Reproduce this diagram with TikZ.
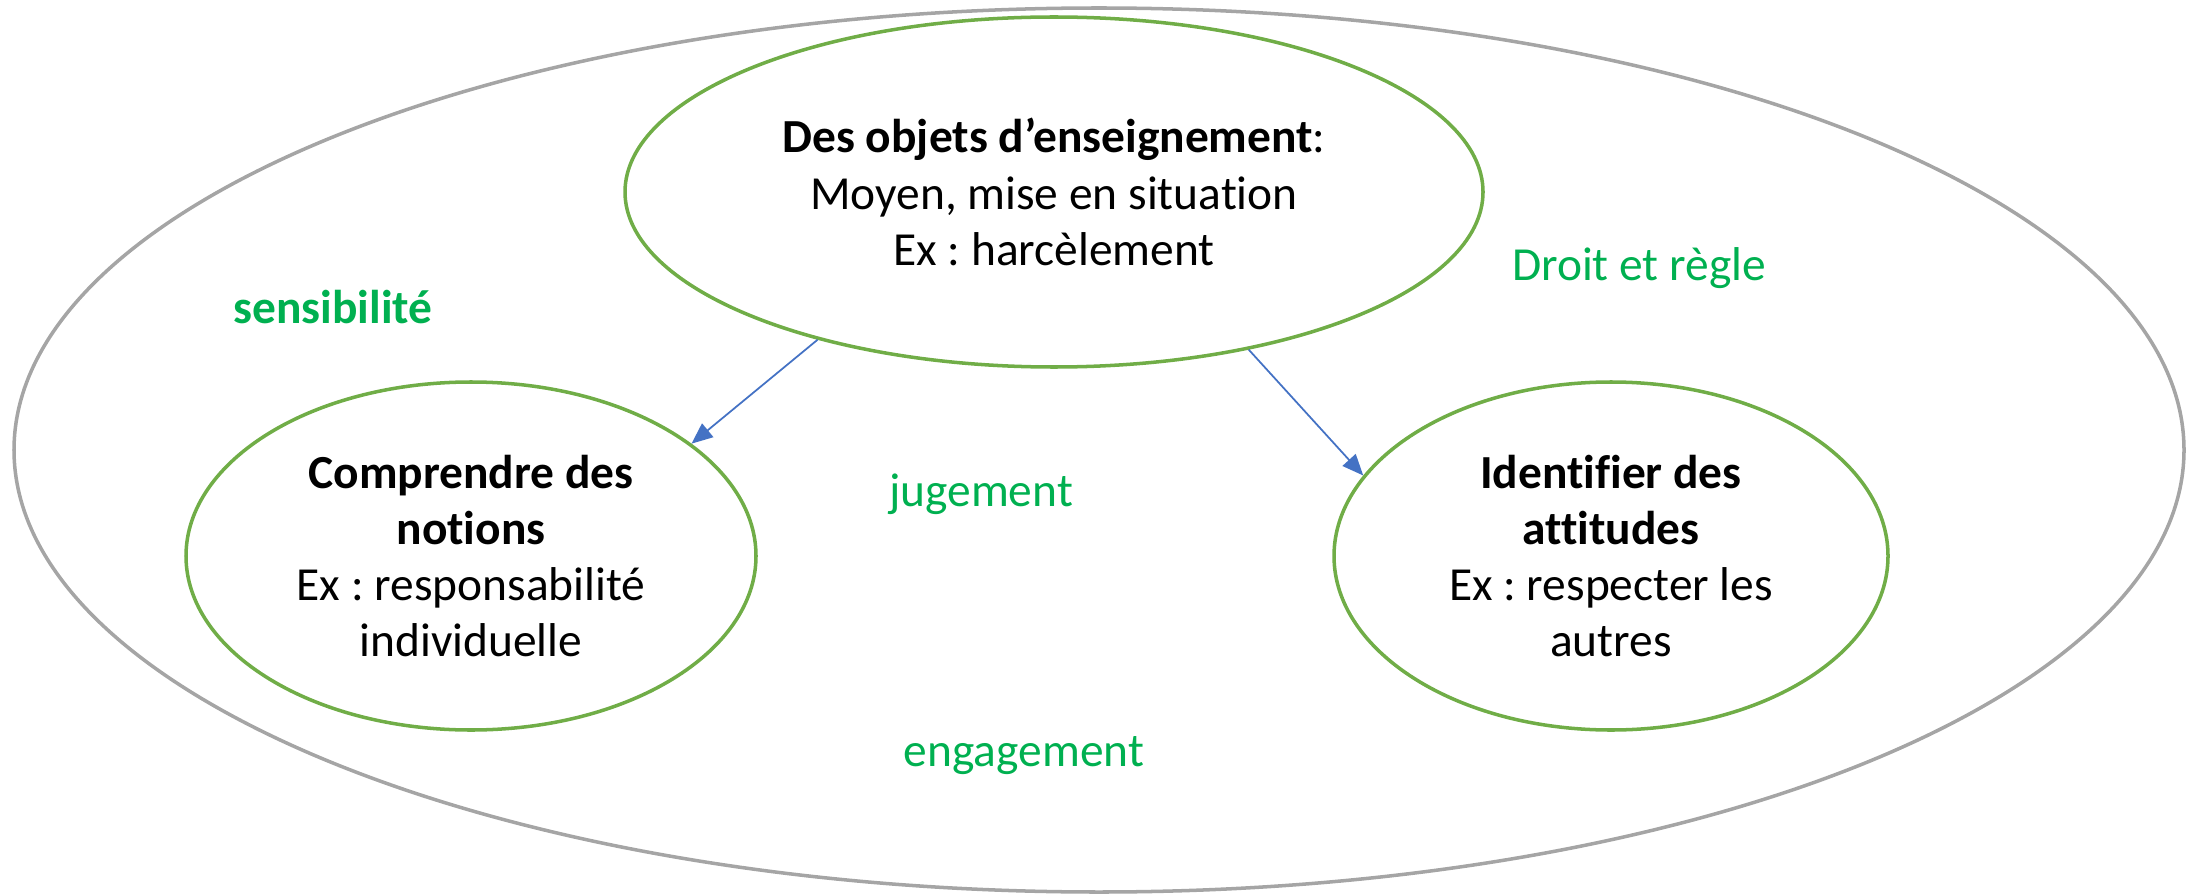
\documentclass[tikz,border=0pt]{standalone}
\usepackage{fontspec}
\setmainfont{Carlito}[Ligatures=NoCommon]
\usetikzlibrary{shapes.geometric,arrows.meta}
\definecolor{outergray}{RGB}{165,165,165}
\definecolor{ovalgreen}{RGB}{112,173,71}
\definecolor{labelgreen}{RGB}{0,176,80}
\definecolor{arrowblue}{RGB}{68,114,196}
\frenchspacing
\begin{document}
\begin{tikzpicture}[
    oval/.style={ellipse, draw=ovalgreen, line width=1pt, inner sep=0pt, align=center, font=\fontsize{13.5}{16}\selectfont},
    theme/.style={text=labelgreen, font=\fontsize{13.5}{16}\selectfont},
    link/.style={-{Triangle[width=5pt,length=6pt]}, draw=arrowblue, line width=0.5pt}
  ]
  \useasboundingbox (0,0) rectangle (22,-8.95);

  % Outer frame
  \node[ellipse, draw=outergray, line width=1pt, minimum width=21.7cm, minimum height=8.84cm] (frame) at (10.99,-4.50) {};

  % Teaching objects (top)
  \node[oval, minimum width=8.58cm, minimum height=3.5cm] (objets) at (10.54,-1.92) {\textbf{Des objets d’enseignement}:\\Moyen, mise en situation\\Ex : harcèlement};

  % Notions and attitudes
  \node[oval, minimum width=5.7cm, minimum height=3.48cm] (notions) at (4.71,-5.56) {\textbf{Comprendre des}\\\textbf{notions}\\Ex : responsabilité\\individuelle};
  \node[oval, minimum width=5.54cm, minimum height=3.48cm] (attitudes) at (16.11,-5.56) {\textbf{Identifier des}\\\textbf{attitudes}\\Ex : respecter les\\autres};

  % Themes
  \node[theme] (sensibilite) at (3.33,-3.07) {\textbf{sensibilité}};
  \node[theme] (droit) at (16.39,-2.68) {Droit et règle};
  \node[theme] (jugement) at (9.81,-4.94) {jugement};
  \node[theme] (engagement) at (10.24,-7.56) {engagement};

  % Arrows
  \draw[link] (objets.212) -- (notions.27);
  \draw[link] (objets.-39.5) -- (attitudes.162.5);
\end{tikzpicture}
\end{document}
